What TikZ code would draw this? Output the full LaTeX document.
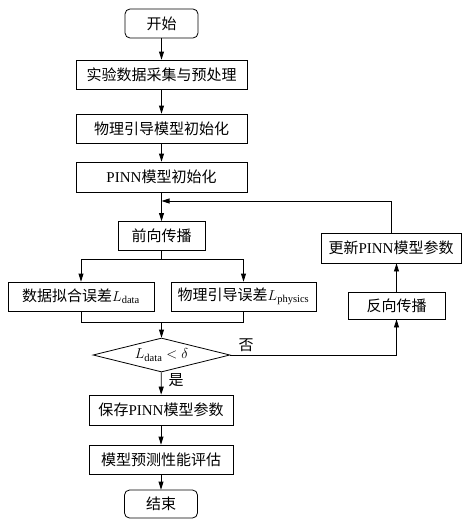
\documentclass[tikz,border=0pt]{standalone}
\usepackage{amsmath}
\usepackage{fontspec}
\setmainfont{Liberation Serif}
\newfontfamily\cjk{Noto Sans CJK SC}
\newcommand{\zh}[1]{{\cjk #1}}
\usetikzlibrary{arrows.meta,positioning,shapes.geometric}

\begin{document}
\begin{tikzpicture}[x=1pt,y=-1pt,
    every node/.style={font=\fontsize{15}{18}\selectfont},
    proc/.style={draw,line width=0.8pt,minimum width=171pt,minimum height=29pt,inner sep=1pt},
    term/.style={proc,rounded corners=5pt,minimum width=73pt},
    cond/.style={draw,diamond,line width=0.8pt,aspect=4,minimum width=137pt,minimum height=34pt,inner sep=0pt},
    arr/.style={-{Triangle[length=8pt,width=5pt]},line width=0.8pt},
    line/.style={line width=0.8pt}]
    \useasboundingbox (0,0) rectangle (468,530);
    % Main column
    \node[term] (start) at (161.5,23.5) {\zh{开始}};
    \node[proc] (collect) at (161.5,74.5) {\zh{实验数据采集与预处理}};
    \node[proc] (phyinit) at (161.5,128.5) {\zh{物理引导模型初始化}};
    \node[proc,minimum height=30pt] (pinninit) at (161.5,177) {PINN\zh{模型初始化}};
    \node[proc,minimum width=87pt] (forward) at (161.5,236) {\zh{前向传播}};
    % Loss terms
    \node[proc,minimum width=146pt] (lossdata) at (81,296.5) {\zh{数据拟合误差}$L_{\mathrm{data}}$};
    \node[proc,minimum width=145pt] (lossphys) at (243.5,296.5) {\zh{物理引导误差}$L_{\mathrm{physics}}$};
    % Decision
    \node[cond] (check) at (161.5,355) {$L_{\mathrm{data}}<\delta$};
    \node[proc,minimum width=144pt,minimum height=30pt] (save) at (161,410) {\zh{保存}PINN\zh{模型参数}};
    \node[proc,minimum width=144pt] (evaluate) at (161,459.5) {\zh{模型预测性能评估}};
    \node[term,minimum height=28pt] (stop) at (161,504) {\zh{结束}};
    % Feedback branch
    \node[proc,minimum width=97pt,minimum height=27pt] (backward) at (396.5,305.5) {\zh{反向传播}};
    \node[proc,minimum width=140pt,minimum height=30pt] (update) at (391,248) {\zh{更新}PINN\zh{模型参数}};
    % Labels
    \node (nolabel) at (246,345) {\zh{否}};
    \node (yeslabel) at (176,380) {\zh{是}};
    % Connectors
    \coordinate (loopin) at (161.5,201);
    \coordinate (split) at (161.5,259);
    \coordinate (merge) at (161.5,322);
    \draw[arr] (start) -- (collect);
    \draw[arr] (collect) -- (phyinit);
    \draw[arr] (phyinit) -- (pinninit);
    \draw[arr] (pinninit) -- (forward);
    \draw[line] (forward) -- (split);
    \draw[arr] (split) -| (lossdata);
    \draw[arr] (split) -| (lossphys);
    \draw[line] (lossdata) |- (merge);
    \draw[line] (lossphys) |- (merge);
    \draw[arr] (merge) -- (check);
    \draw[arr] (check) -- (save);
    \draw[arr] (save) -- (evaluate);
    \draw[arr] (evaluate) -- (stop);
    \draw[arr] (check.east) -| (backward);
    \draw[arr] (backward.north) -- (backward.north |- update.south);
    \draw[arr] (update.north) |- (loopin);
\end{tikzpicture}
\end{document}
